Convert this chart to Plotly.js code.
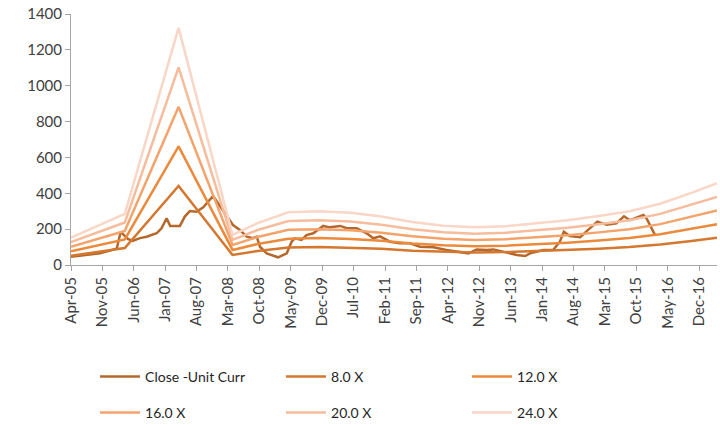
<!DOCTYPE html>
<html>
<head>
<meta charset="utf-8">
<script src="https://cdn.plot.ly/plotly-3.0.1.min.js"></script>
<style>html,body{margin:0;padding:0;background:#fff;}#chart{width:720px;height:425px;}</style>
</head>
<body>
<div id="chart"></div>
<script>
// Price series (Close - Unit Curr)
const priceDates = ["2005-04-01","2005-07-04","2005-10-15","2005-12-22","2006-02-06","2006-03-04","2006-03-25","2006-04-22","2006-05-25","2006-07-12","2006-08-27","2006-11-03","2006-12-06","2007-01-10","2007-02-03","2007-04-10","2007-05-13","2007-06-16","2007-08-01","2007-09-15","2007-11-21","2008-04-04","2008-05-21","2008-07-06","2008-08-18","2008-09-12","2008-10-04","2008-11-19","2009-02-04","2009-04-04","2009-05-07","2009-05-28","2009-07-13","2009-08-16","2009-10-01","2009-12-07","2010-01-22","2010-04-01","2010-05-16","2010-07-22","2010-09-28","2010-11-13","2010-12-28","2011-02-13","2011-03-04","2011-05-10","2011-07-19","2011-09-25","2011-12-25","2012-03-22","2012-06-22","2012-08-19","2012-10-13","2012-12-22","2013-02-04","2013-04-13","2013-07-13","2013-09-07","2013-10-10","2014-01-10","2014-03-16","2014-05-01","2014-05-28","2014-07-07","2014-09-16","2014-11-01","2014-12-13","2015-01-10","2015-03-13","2015-05-19","2015-07-10","2015-08-19","2015-11-19","2015-12-10","2016-02-06"];
const priceValues = [46,55,65,80,93,185,170,145,135,150,158,177,205,261,218,218,270,301,297,322,385,223,195,158,150,158,102,65,43,65,130,149,140,167,177,218,210,218,205,205,177,149,160,140,130,121,121,102,99,84,74,65,87,84,87,74,56,50,65,84,84,130,186,162,155,190,218,242,225,232,272,250,279,260,167];

// PE band series
const bandDates = ["2005-04-01","2006-04-01","2007-04-01","2008-04-01","2008-09-18","2009-04-15","2009-11-12","2010-06-10","2011-01-06","2011-08-04","2012-03-01","2012-09-28","2013-04-28","2013-11-25","2014-06-22","2015-01-20","2015-08-15","2016-03-12","2016-10-10","2017-04-01"];
const band8  = [51,95,441,56,78,98,100,97,90,80,73,70,72,77,83,91,100,114,134,152];
const band12 = [76.5,142.5,661.5,84,117,147,150,145.5,135,120,109.5,105,108,115.5,124.5,136.5,150,171,201,228];
const band16 = [102,190,882,112,156,196,200,194,180,160,146,140,144,154,166,182,200,228,268,304];
const band20 = [127.5,237.5,1102.5,140,195,245,250,242.5,225,200,182.5,175,180,192.5,207.5,227.5,250,285,335,380];
const band24 = [153,285,1323,168,234,294,300,291,270,240,219,210,216,231,249,273,300,342,402,456];

const seriesNames = ["Close -Unit Curr","8.0 X","12.0 X","16.0 X","20.0 X","24.0 X"];
const seriesColors = ["#B5682C","#D4772F","#EC8A3C","#F4A36B","#F7BC9C","#F9D6C6"];

const tickDates = ["2005-04-01","2005-11-01","2006-06-01","2007-01-01","2007-08-01","2008-03-01","2008-10-01","2009-05-01","2009-12-01","2010-07-01","2011-02-01","2011-09-01","2012-04-01","2012-11-01","2013-06-01","2014-01-01","2014-08-01","2015-03-01","2015-10-01","2016-05-01","2016-12-01"];
const tickLabels = ["Apr-05","Nov-05","Jun-06","Jan-07","Aug-07","Mar-08","Oct-08","May-09","Dec-09","Jul-10","Feb-11","Sep-11","Apr-12","Nov-12","Jun-13","Jan-14","Aug-14","Mar-15","Oct-15","May-16","Dec-16"];

const bandSets = [band8, band12, band16, band20, band24];
const traces = [{
  x: priceDates, y: priceValues, type: 'scatter', mode: 'lines',
  name: seriesNames[0], line: {color: seriesColors[0], width: 2.5}, legend: 'legend'
}];
bandSets.forEach((b, i) => {
  traces.push({
    x: bandDates, y: b, type: 'scatter', mode: 'lines',
    name: seriesNames[i+1], line: {color: seriesColors[i+1], width: 2.5},
    legend: (i+1) < 3 ? 'legend' : 'legend2'
  });
});

const fnt = {family: 'Lato, "Open Sans", sans-serif', size: 14, color: '#404040'};
const legendCommon = {
  orientation: 'h', xanchor: 'left', yanchor: 'middle',
  xref: 'container', yref: 'container',
  entrywidth: 131, entrywidthmode: 'pixels', itemwidth: 40,
  font: {family: fnt.family, size: 14, color: '#262626'},
  bgcolor: 'rgba(0,0,0,0)', traceorder: 'normal'
};
const layout = {
  width: 720, height: 425,
  margin: {l: 71, r: 3, t: 14, b: 160, autoexpand: false},
  paper_bgcolor: '#fff', plot_bgcolor: '#fff',
  font: fnt,
  showlegend: true,
  xaxis: {
    type: 'date', range: ['2005-04-01','2017-04-01'], automargin: false,
    tickmode: 'array', tickvals: tickDates, ticktext: tickLabels,
    tickangle: -90, ticks: 'outside', ticklen: 5, tickcolor: '#A6A6A6',
    showline: true, linecolor: '#A6A6A6', linewidth: 1,
    showgrid: false, zeroline: false, tickfont: {family: fnt.family, size: 15, color: '#404040'}
  },
  yaxis: {
    range: [0, 1400], dtick: 200, tick0: 0, automargin: false,
    ticks: 'outside', ticklen: 5, tickcolor: '#A6A6A6',
    showline: true, linecolor: '#A6A6A6', linewidth: 1,
    showgrid: false, zeroline: false, tickfont: {family: fnt.family, size: 15, color: '#404040'}
  },
  legend: Object.assign({}, legendCommon, {x: 0.132, y: 1 - 377/425}),
  legend2: Object.assign({}, legendCommon, {x: 0.132, y: 1 - 413/425})
};
Plotly.newPlot('chart', traces, layout, {displayModeBar: false, staticPlot: true});
</script>
</body>
</html>
